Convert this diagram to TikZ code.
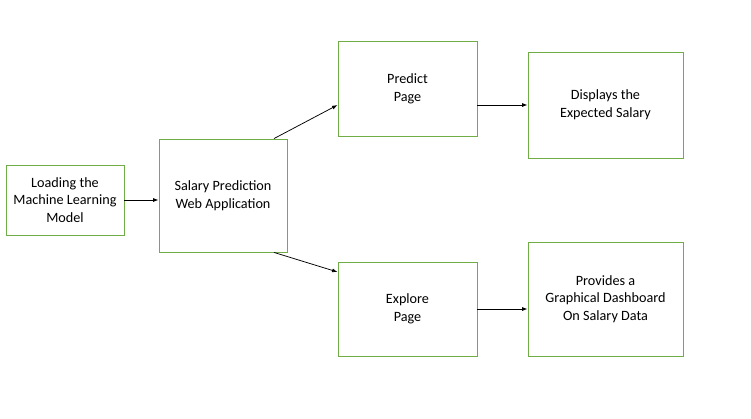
\documentclass[tikz,border=0pt]{standalone}
\usepackage{fontspec}
\setmainfont{Carlito}
\usetikzlibrary{arrows.meta,calc}
\definecolor{boxgreen}{HTML}{70AD47}
\begin{document}
\begin{tikzpicture}[x=1pt,y=-1pt,
  box/.style={draw=boxgreen,line width=0.85pt,fill=white,align=center,inner sep=0pt,
    font=\fontsize{14.2}{17.6}\selectfont},
  conn/.style={draw=black,line width=0.75pt,-{Latex[length=5.5pt,width=4pt]}}]
\useasboundingbox (0,0) rectangle (751,418);
\node[box,minimum width=118pt,minimum height=70pt] (load) at (65,200) {Loading the\\Machine Learning\\Model};
\node[box,minimum width=128pt,minimum height=113pt] (app) at (223,195.5) {Salary Prediction\\Web Application};
\node[box,minimum width=139pt,minimum height=95pt] (predict) at (407.5,88.5) {Predict\\Page};
\node[box,minimum width=155pt,minimum height=106pt] (display) at (605.5,105) {Displays the\\Expected Salary};
\node[box,minimum width=139pt,minimum height=94pt] (explore) at (407.5,309) {Explore\\Page};
\node[box,minimum width=155pt,minimum height=114pt] (provide) at (605.5,299) {Provides a\\Graphical Dashboard\\On Salary Data};
\draw[conn] (load.east) -- (load.east -| app.west);
\draw[conn] ([xshift=51pt]app.north) -- ([yshift=-16.5pt]predict.west);
\draw[conn] ([xshift=51pt]app.south) -- ([yshift=37pt]explore.west);
\draw[conn] (predict.east |- display.west) -- (display.west);
\draw[conn] (explore.east) -- (explore.east -| provide.west);
\end{tikzpicture}
\end{document}
